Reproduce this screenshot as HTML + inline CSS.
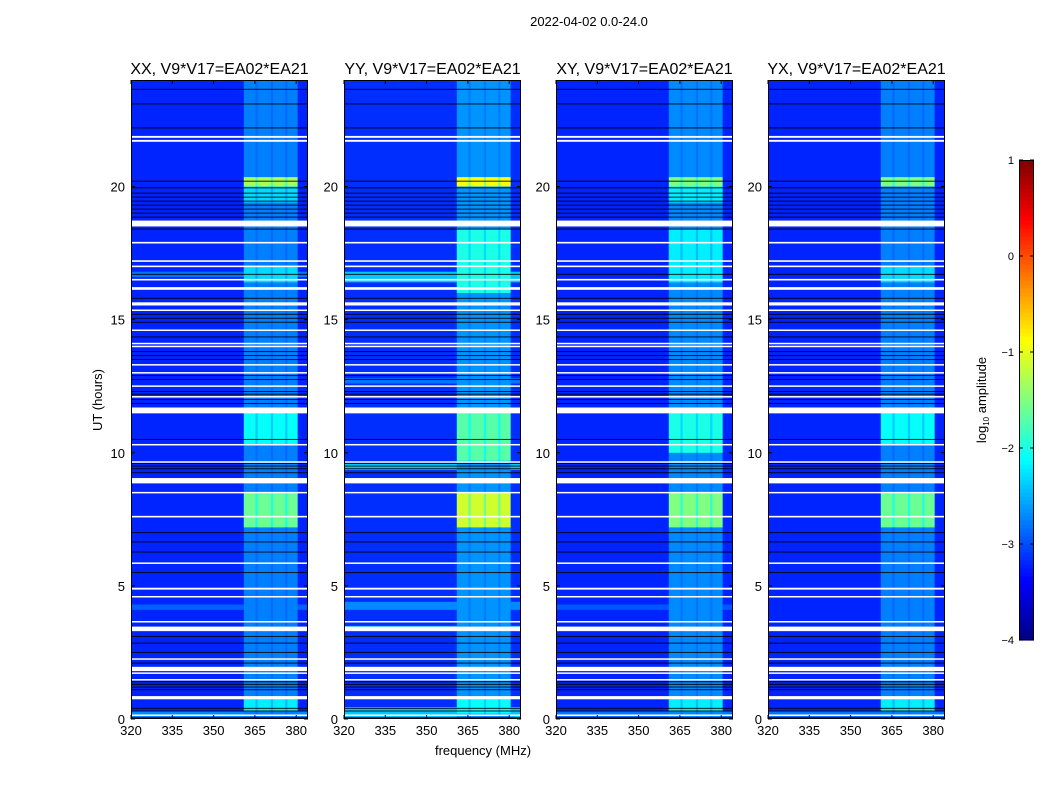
<!DOCTYPE html>
<html><head><meta charset="utf-8"><style>
body{margin:0;background:#fff;}
svg{display:block;font-family:"Liberation Sans",sans-serif;}
</style></head><body>
<svg id="fig" width="1050" height="800" viewBox="0 0 1050 800" xmlns="http://www.w3.org/2000/svg">
<rect width="1050" height="800" fill="#fff"/>
<text x="589" y="26" font-size="13" text-anchor="middle">2022-04-02 0.0-24.0</text>
<text x="102" y="400" font-size="13" text-anchor="middle" transform="rotate(-90 102 400)">UT (hours)</text>
<text x="483" y="755" font-size="13" text-anchor="middle">frequency (MHz)</text>
<g id="panels"></g>
<g id="cbar"></g>
<text x="986" y="400" font-size="13" text-anchor="middle" transform="rotate(-90 986 400)">log<tspan font-size="8" dy="3">10</tspan><tspan dy="-3"> amplitude</tspan></text>
</svg>
<script>
const titles=["XX, V9*V17=EA02*EA21","YY, V9*V17=EA02*EA21","XY, V9*V17=EA02*EA21","YX, V9*V17=EA02*EA21"];
const xTicks=[320,335,350,365,380];
const yTicks=[0,5,10,15,20];
const cbarTicks=[1,0,-1,-2,-3,-4];
const bgValues=[-3.2,-3.15,-3.2,-3.2];
const subBands=[[361,365.2],[366,370.8],[371.6,376],[376.8,380.5]];
const bandXX=[[0,24,-2.75],[19.4,20,-2.3],[20,20.35,-1.3],[16.4,17,-2.3],[10.3,11.5,-2.1],[7.2,8.5,-1.6],[0.3,0.8,-2.2]];
const bandYY=[[0,24,-2.65],[20,20.35,-0.9],[16,18.4,-2.0],[9.7,11.5,-1.7],[7.2,8.5,-1.1],[0.2,0.8,-2.1]];
const bandXY=[[0,24,-2.7],[19.4,20,-2.2],[20,20.35,-1.5],[16.4,18.4,-2.2],[10,11.5,-2.0],[7.2,8.5,-1.5],[0.3,0.8,-2.2]];
const bandYX=[[0,24,-2.75],[20,20.35,-1.5],[16.4,17,-2.3],[10.3,11.5,-2.1],[7.2,8.5,-1.6],[0.3,0.8,-2.2]];
const stripesXX=[[0,0.3,-2.7],[4.1,4.3,-2.9],[16.6,16.8,-2.8]];
const stripesYY=[[16.4,16.8,-2.4],[9.35,9.6,-2.4],[0,0.45,-2.4],[3.3,3.5,-2.6],[4.1,4.4,-2.7],[12.6,12.8,-2.8]];
const stripesXY=[[0,0.3,-2.8],[4.1,4.3,-2.95]];
const stripesYX=[[0,0.3,-2.8]];
const whiteGaps=[[21.83,21.9],[21.68,21.75],[18.5,18.72],[17.86,17.92],[17.17,17.23],[16.97,17.03],[16.47,16.53],[16.12,16.22],[15.53,15.65],[15.33,15.38],[14.58,14.63],[14.08,14.13],[13.97,14.02],[13.28,13.33],[12.98,13.03],[12.48,12.53],[12.08,12.13],[11.48,11.7],[10.28,10.33],[9.63,9.68],[8.85,9.05],[8.48,8.53],[7.57,7.63],[5.83,5.88],[4.86,4.93],[4.57,4.62],[3.63,3.68],[3.3,3.47],[2.23,2.28],[1.8,1.96],[1.7,1.75],[1.45,1.5],[0.74,0.86],[0.13,0.17]];
const blackLines=[23.65,23.1,22.2,20.2,19.95,19.75,19.6,19.45,19.3,19.15,19.0,18.85,18.4,16.7,15.8,15.2,15.05,14.9,14.35,13.8,13.65,13.5,12.9,12.75,12.3,12.2,12.0,11.85,10.5,9.6,9.5,9.4,9.25,7.0,6.65,6.27,5.5,3.1,2.85,2.5,2.1,1.4,1.3,1.2,1.1,0.4,0.3,0.05];
const bands=[bandXX,bandYY,bandXY,bandYX];
const stripes=[stripesXX,stripesYY,stripesXY,stripesYX];
const NS="http://www.w3.org/2000/svg";
const panelX=[131,344,556,768], PW=177, PT=80, PB=719;
function jet(v){let t=(v+4)/5;t=Math.max(0,Math.min(1,t));
 const f=x=>Math.round(255*Math.max(0,Math.min(1,x)));
 return `rgb(${f(1.5-Math.abs(4*t-3))},${f(1.5-Math.abs(4*t-2))},${f(1.5-Math.abs(4*t-1))})`;}
function mk(tag,attrs,parent){const e=document.createElementNS(NS,tag);for(const k in attrs)e.setAttribute(k,attrs[k]);parent.appendChild(e);return e;}
const yS=h=>PB-h*(PB-PT)/24;
const root=document.getElementById('panels');
for(let p=0;p<4;p++){
 const x0=panelX[p];const xS=f=>x0+(f-320)*41.3/15;
 const g=mk('g',{},root);
 
 
 const bg=mk('rect',{x:x0,y:PT,width:PW,height:PB-PT,fill:jet(bgValues[p])},g);
 
 
 for(const s of stripes[p]){const r=mk('rect',{x:x0,y:yS(s[1]),width:PW,height:yS(s[0])-yS(s[1]),fill:jet(s[2])},g);
  
  }
 for(const s of bands[p]){
  const a=mk('rect',{x:xS(subBands[0][0]),y:yS(s[1]),width:xS(subBands[3][1])-xS(subBands[0][0]),height:yS(s[0])-yS(s[1]),fill:jet(bgValues[p]+(s[2]-bgValues[p])*0.75)},g);
  
  
  for(const b of subBands){const r=mk('rect',{x:xS(b[0]),y:yS(s[1]),width:xS(b[1])-xS(b[0]),height:yS(s[0])-yS(s[1]),fill:jet(s[2])},g);
   
   }
 }
 for(const h of blackLines){const l=mk('rect',{x:x0,y:yS(h)-0.5,width:PW,height:1,fill:'#000','fill-opacity':0.85},g);
  
  }
 for(const w of whiteGaps){const r=mk('rect',{x:x0,y:yS(w[1]),width:PW,height:Math.max(1.5,yS(w[0])-yS(w[1])),fill:'#fff'},g);
  
  }
 const fr=mk('rect',{x:x0+0.5,y:PT+0.5,width:PW-1,height:PB-PT-1,fill:'none',stroke:'#000','stroke-width':1},g);
 
 
 const t=mk('text',{x:x0+PW/2,y:74,'font-size':16,'text-anchor':'middle'},g);t.textContent=titles[p];
 
 
 for(const v of xTicks){const x=xS(v);
  mk('line',{x1:x,x2:x,y1:PB,y2:PB-4,stroke:'#000'},g);mk('line',{x1:x,x2:x,y1:PT,y2:PT+4,stroke:'#000'},g);
  const tt=mk('text',{x:x,y:PB+16,'font-size':13,'text-anchor':'middle'},g);tt.textContent=v;
  
  }
 for(const v of yTicks){const y=yS(v);
  mk('line',{x1:x0,x2:x0+4,y1:y,y2:y,stroke:'#000'},g);mk('line',{x1:x0+PW,x2:x0+PW-4,y1:y,y2:y,stroke:'#000'},g);
  const tt=mk('text',{x:x0-6,y:y+5,'font-size':13,'text-anchor':'end'},g);tt.textContent=v;
  
  }
}
const cb=document.getElementById('cbar');
const CX=1019,CW=15,CT=160,CB=640;
for(let i=0;i<120;i++){const v=-4+5*(i+0.5)/120;const y=CB-(i+1)*(CB-CT)/120;
 const r=mk('rect',{x:CX,y:y,width:CW,height:(CB-CT)/120+0.6,fill:jet(v)},cb);
 
 }
mk('rect',{x:CX+0.5,y:CT+0.5,width:CW-1,height:CB-CT-1,fill:'none',stroke:'#000'},cb);
for(const v of cbarTicks){const y=CB-(v+4)*(CB-CT)/5;
 mk('line',{x1:CX,x2:CX+4,y1:y,y2:y,stroke:'#000'},cb);mk('line',{x1:CX+CW,x2:CX+CW-4,y1:y,y2:y,stroke:'#000'},cb);
 const t=mk('text',{x:CX-5,y:y+4,'font-size':11,'text-anchor':'end'},cb);t.textContent=v<0?'\u2212'+(-v):v;
 
 }
</script>
</body></html>
